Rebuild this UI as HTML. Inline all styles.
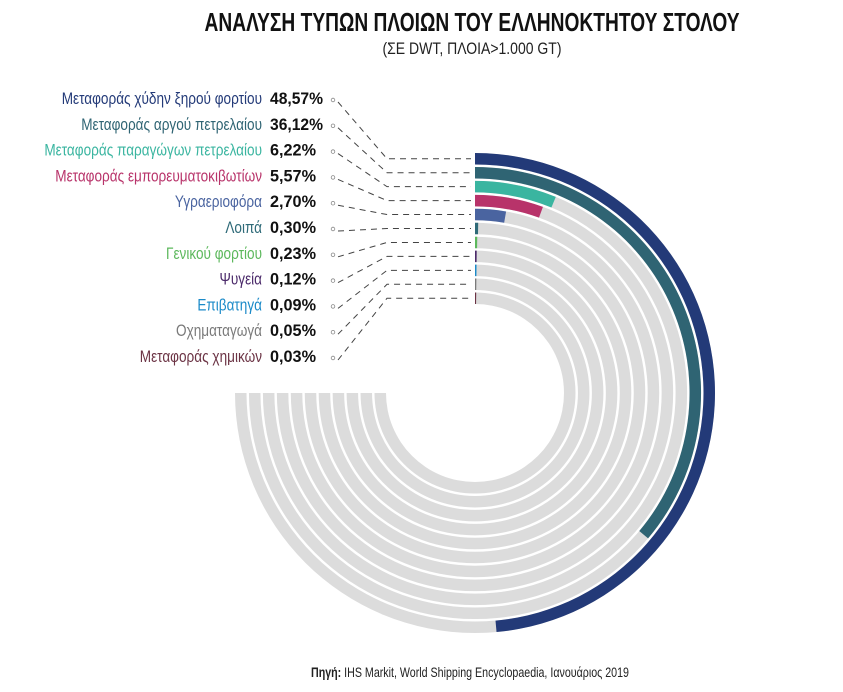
<!DOCTYPE html>
<html><head><meta charset="utf-8"><style>
html,body{margin:0;padding:0;background:#fff;}
svg{display:block;font-family:"Liberation Sans Narrow","Liberation Sans",sans-serif;}
</style></head><body>
<svg id="chart" width="843" height="692" viewBox="0 0 843 692" xmlns="http://www.w3.org/2000/svg">
<text x="472" y="31" text-anchor="middle" font-size="26" font-weight="bold" fill="#111" textLength="535" lengthAdjust="spacingAndGlyphs">ΑΝΑΛΥΣΗ ΤΥΠΩΝ ΠΛΟΙΩΝ ΤΟΥ ΕΛΛΗΝΟΚΤΗΤΟΥ ΣΤΟΛΟΥ</text>
<text x="472" y="54" text-anchor="middle" font-size="17" fill="#222" textLength="179" lengthAdjust="spacingAndGlyphs">(ΣΕ DWT, ΠΛΟΙΑ&gt;1.000 GT)</text>
<g id="rings"></g>
<g id="labels"></g>
<text x="470" y="677" text-anchor="middle" font-size="14" fill="#222" textLength="318" lengthAdjust="spacingAndGlyphs"><tspan font-weight="bold">Πηγή:</tspan> IHS Markit, World Shipping Encyclopaedia, Ιανουάριος 2019</text>
</svg>
<script>
const categories = ["Μεταφοράς χύδην ξηρού φορτίου","Μεταφοράς αργού πετρελαίου","Μεταφοράς παραγώγων πετρελαίου","Μεταφοράς εμπορευματοκιβωτίων","Υγραεριοφόρα","Λοιπά","Γενικού φορτίου","Ψυγεία","Επιβατηγά","Οχηματαγωγά","Μεταφοράς χημικών"];
const values = [48.57,36.12,6.22,5.57,2.70,0.30,0.23,0.12,0.09,0.05,0.03];
const valueLabels = ["48,57%","36,12%","6,22%","5,57%","2,70%","0,30%","0,23%","0,12%","0,09%","0,05%","0,03%"];
const colors = ["#233a78","#2f6473","#3ab5a0","#b8336a","#4a64a0","#2e6a78","#5cb85c","#4b2a6a","#1b8ac8","#7a7a7a","#6b3344"];

const NS="http://www.w3.org/2000/svg";
const cx=475, cy=393, rOuter=240, step=13.95, thick=11.5;
const rings=document.getElementById('rings'), labels=document.getElementById('labels');
function angle(v){return v/100*2*Math.PI;}
function pt(r,a){return [cx+r*Math.sin(a), cy-r*Math.cos(a)];}
function arcPath(r1,r2,a0,a1){
  const large=(a1-a0)>Math.PI?1:0;
  const p1=pt(r2,a0),p2=pt(r2,a1),p3=pt(r1,a1),p4=pt(r1,a0);
  return `M${p1[0]},${p1[1]} A${r2},${r2} 0 ${large} 1 ${p2[0]},${p2[1]} L${p3[0]},${p3[1]} A${r1},${r1} 0 ${large} 0 ${p4[0]},${p4[1]} Z`;
}
categories.forEach((c,i)=>{
  const r2=rOuter-i*step, r1=r2-thick;
  const bg=document.createElementNS(NS,'path');
  bg.setAttribute('d',arcPath(r1,r2,0,1.5*Math.PI));
  bg.setAttribute('fill','#dcdcdc');
  
  
  rings.appendChild(bg);
  const a=Math.max(angle(values[i]),0.012);
  const bar=document.createElementNS(NS,'path');
  bar.setAttribute('d',arcPath(r1,r2,0,a));
  bar.setAttribute('fill',colors[i]);
  
  
  rings.appendChild(bar);
  // labels
  const ly=98+i*25.8, ry=cy-(r2-thick/2);
  const name=document.createElementNS(NS,'text');
  name.setAttribute('x',262); name.setAttribute('y',ly+6);
  name.setAttribute('text-anchor','end'); name.setAttribute('font-size','17');
  name.setAttribute('fill',colors[i]);
  name.setAttribute('transform',`translate(262,0) scale(0.8,1) translate(-262,0)`);
  name.textContent=c;
  
  
  labels.appendChild(name);
  const pv=document.createElementNS(NS,'text');
  pv.setAttribute('x',270); pv.setAttribute('y',ly+6);
  pv.setAttribute('font-size','17'); pv.setAttribute('font-weight','bold'); pv.setAttribute('fill','#111');
  pv.setAttribute('textLength',i<2?53:46); pv.setAttribute('lengthAdjust','spacingAndGlyphs');
  pv.textContent=valueLabels[i];
  
  
  labels.appendChild(pv);
  const dot=document.createElementNS(NS,'circle');
  dot.setAttribute('cx',333); dot.setAttribute('cy',ly+2); dot.setAttribute('r',1.8);
  dot.setAttribute('fill','none'); dot.setAttribute('stroke','#888'); dot.setAttribute('stroke-width','0.8');
  
  
  labels.appendChild(dot);
  const ln=document.createElementNS(NS,'polyline');
  ln.setAttribute('points',`338,${ly+4} 387,${ry} 471,${ry}`);
  ln.setAttribute('fill','none'); ln.setAttribute('stroke','#444'); ln.setAttribute('stroke-width','1');
  ln.setAttribute('stroke-dasharray','6,5');
  
  
  labels.appendChild(ln);
});
</script>
</body></html>
